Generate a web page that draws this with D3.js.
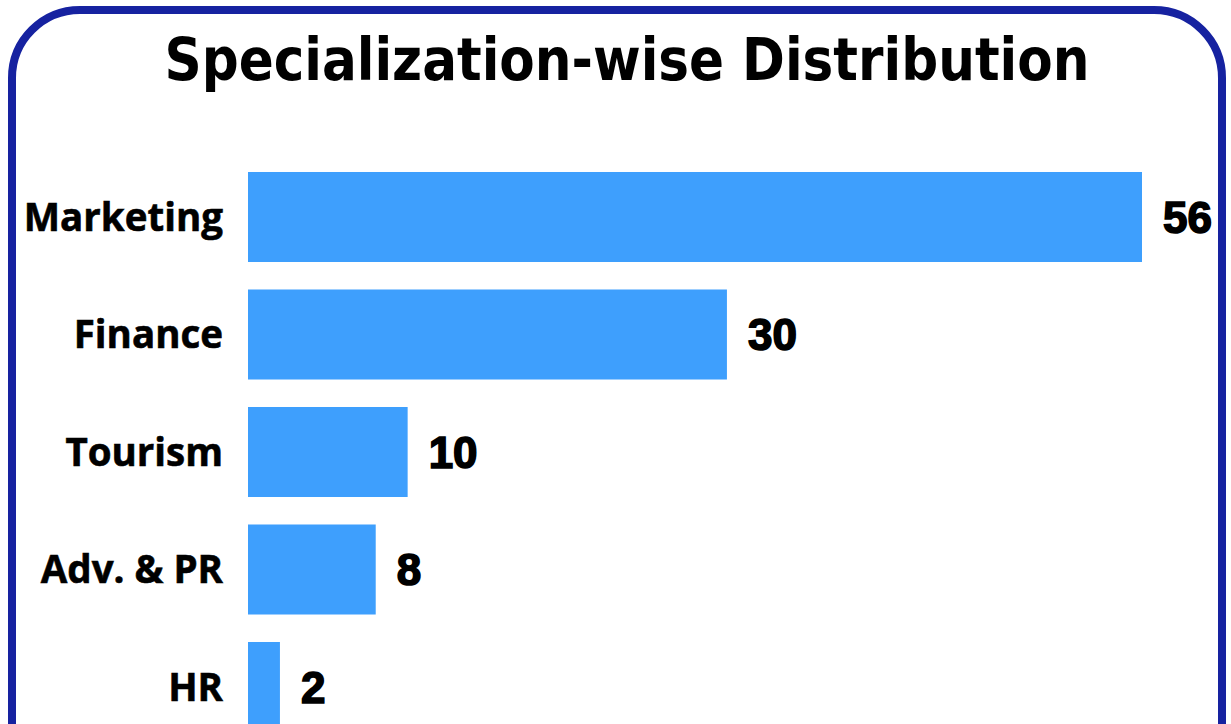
<!DOCTYPE html>
<html><head><meta charset="utf-8">
<script src="https://cdn.jsdelivr.net/npm/d3@7"></script>
<style>html,body{margin:0;padding:0;background:#fff;overflow:hidden}</style>
</head><body>
<svg id="chart" width="1231" height="724"></svg>
<script>
const categories = ["Marketing", "Finance", "Tourism", "Adv. & PR", "HR"];
const values = [56, 30, 10, 8, 2];
const title = "Specialization-wise Distribution";

const svg = d3.select("#chart");
svg.append("rect").attr("x", 12).attr("y", 10).attr("width", 1210).attr("height", 820)
  .attr("rx", 68).attr("fill", "#fff").attr("stroke", "#1622a0").attr("stroke-width", 8);

svg.append("text").attr("x", 627).attr("y", 80).attr("text-anchor", "middle")
  .attr("font-family", "'DejaVu Sans Condensed', 'DejaVu Sans', sans-serif").attr("font-weight", "bold")
  .attr("font-size", 58).attr("fill", "#000")
  .attr("textLength", 925).attr("lengthAdjust", "spacingAndGlyphs")
  .text(title);

const x = d3.scaleLinear().domain([0, 56]).range([248, 1142]);
const y = d3.scaleBand().domain(categories).range([172 - 27.5 * 0.5, 172 + 117.5 * 5 - 27.5 * 0.5]).paddingInner(0.234).paddingOuter(0.117);

const data = categories.map((c, i) => ({c, v: values[i]}));

svg.selectAll("rect.bar").data(data).join("rect").attr("class", "bar")
  .attr("x", x(0)).attr("y", d => y(d.c)).attr("width", d => x(d.v) - x(0))
  .attr("height", y.bandwidth()).attr("fill", "#3e9ffd");

svg.selectAll("text.cat").data(data).join("text").attr("class", "cat")
  .attr("x", 223).attr("y", d => y(d.c) + y.bandwidth() / 2).attr("dy", "0.36em")
  .attr("text-anchor", "end").attr("font-family", "'Open Sans', sans-serif")
  .attr("font-weight", "bold").attr("font-size", 38.5).attr("fill", "#000")
  .attr("stroke", "#000").attr("stroke-width", 0.6).text(d => d.c);

svg.selectAll("text.val").data(data).join("text").attr("class", "val")
  .attr("x", d => x(d.v) + 21).attr("y", d => y(d.c) + y.bandwidth() / 2).attr("dy", "0.36em")
  .attr("font-family", "'Liberation Sans', Arial, sans-serif")
  .attr("font-weight", "bold").attr("font-size", 44).attr("fill", "#000")
  .attr("stroke", "#000").attr("stroke-width", 1.6).text(d => d.v);
</script>
</body></html>
